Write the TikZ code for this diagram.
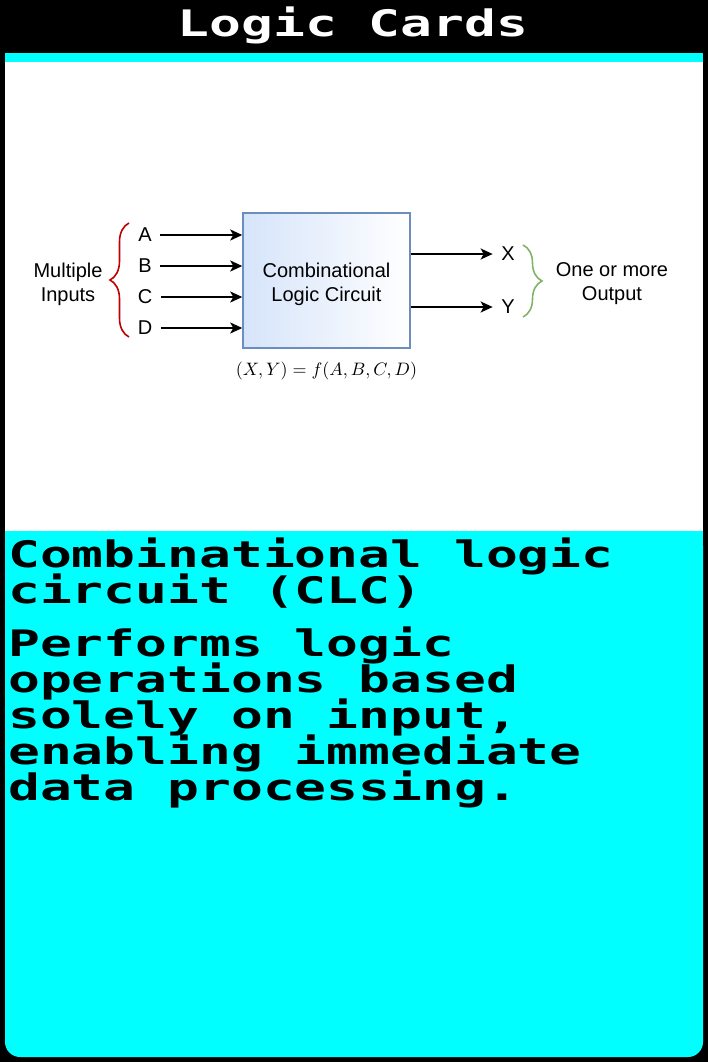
\documentclass[tikz,border=0pt]{standalone}
\usepackage{graphicx}
\usepackage{fontspec}
\setmainfont{Liberation Sans}
\newfontfamily\pixelfont[FakeStretch=1.45,UprightFont={* Bold}]{DejaVu Sans Mono}
\usetikzlibrary{arrows.meta,decorations.pathreplacing}

\definecolor{cardcyan}{HTML}{00FFFF}
\definecolor{clcblue}{HTML}{6C8EBF}
\definecolor{clcfill}{HTML}{D6E4FA}
\definecolor{bracered}{HTML}{C00000}
\definecolor{bracegreen}{HTML}{82B366}

\tikzset{
  arr/.style={line width=1.8pt,-{Stealth[length=12pt,width=11pt,inset=3pt]}},
  sig/.style={font=\fontsize{20}{24}\selectfont,inner xsep=8.5pt,inner ysep=0pt},
  lbl/.style={font=\fontsize{20}{24}\selectfont,align=center,inner sep=0pt},
  pix/.style={font=\pixelfont\fontsize{36.5}{36}\selectfont,inner sep=0pt,anchor=base west},
  brc/.style={decorate,decoration={brace,amplitude=19pt},line width=1.6pt},
}

\begin{document}
\begin{tikzpicture}[x=1pt,y=-1pt]
\useasboundingbox (0,0) rectangle (708,1062);
\fill[black] (0,0) rectangle (708,1062);
\fill[cardcyan] (5,53) rectangle (703,62);
\fill[white] (5,62) rectangle (703,531);
\fill[cardcyan,rounded corners=15pt] (5,531) rectangle (703,1057);
\fill[cardcyan] (5,531) rectangle (703,580);

\node[pix,anchor=base,text=white] (title) at (353,37) {Logic Cards};

\node[draw=clcblue,line width=1.5pt,left color=clcfill,right color=white,
  minimum width=167pt,minimum height=135pt] (clc) at (326.5,280.5) {};
\node[lbl] (clctext) at (326.5,284) {Combinational\\Logic Circuit};

\foreach \s/\y in {A/235,B/266,C/297,D/328}{
  \node[sig] (\s) at (145,\y) {\s};
  \draw[arr] (\s.east) -- (\s -| clc.west);
}
\foreach \s/\y in {X/254,Y/307}{
  \node[sig] (\s) at (508,\y) {\s};
  \draw[arr] (\s -| clc.east) -- (\s.west);
}

\draw[brc,bracered] (129,337) -- (129,223);
\draw[brc,bracegreen] (523,245) -- (523,317);

\node[lbl] (inputs) at (68,284) {Multiple\\Inputs};
\node[lbl] (outputs) at (612,284) {One or more\\Output};
\node[inner sep=0pt] (eq) at (326.5,371) {\scalebox{1.8}{$(X,Y)=f(A,B,C,D)$}};

\node[pix] (name1) at (8,567) {Combinational logic};
\node[pix] (name2) at (8,603) {circuit (CLC)};
\foreach \t [count=\i from 0] in {Performs logic,operations based,{solely on input,},enabling immediate,data processing.}
  \node[pix] (desc\i) at (8,656+36*\i) {\t};
\end{tikzpicture}
\end{document}
